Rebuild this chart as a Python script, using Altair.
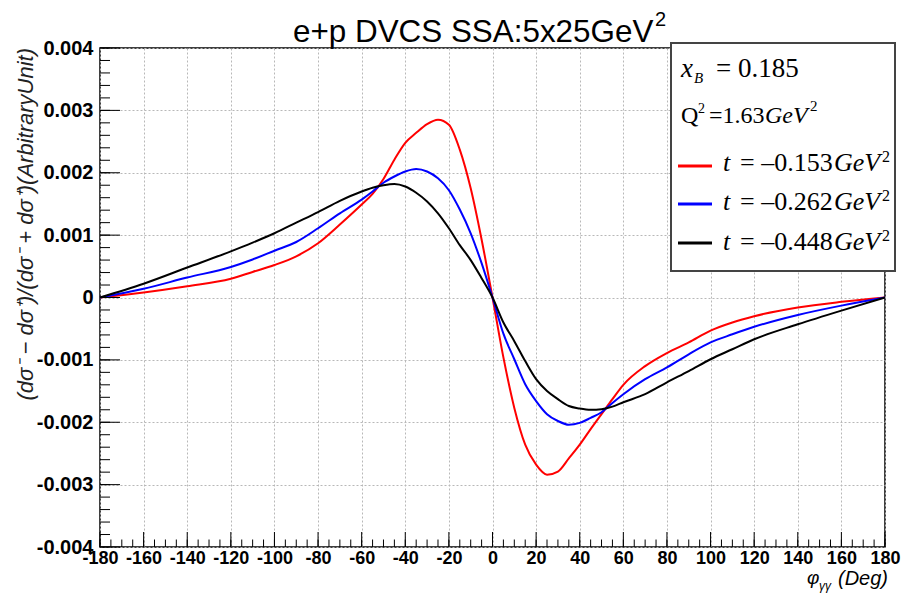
import altair as alt
import pandas as pd

# ---------------- data ----------------
phi = [-180, -160, -140, -120, -110, -100, -90, -80, -70, -60, -55, -50, -45, -40,
       -35, -30, -25, -20, -15, -10, -5, 0, 5, 10, 15, 20, 25, 30, 35, 40, 45, 50,
       55, 60, 70, 80, 90, 100, 110, 120, 140, 160, 180]

ssa_t153 = [0, 0.00008, 0.00018, 0.0003, 0.00041, 0.00052, 0.00066, 0.00087, 0.00117,
            0.00149, 0.00166, 0.0019, 0.00221, 0.00248, 0.00264, 0.00278, 0.00285,
            0.00277, 0.00237, 0.00175, 0.00093, 0, -0.00096, -0.00177, -0.00236,
            -0.00268, -0.00284, -0.00279, -0.00258, -0.00236, -0.00211, -0.00187,
            -0.00163, -0.0014, -0.0011, -0.00089, -0.00072, -0.00053, -0.0004,
            -0.0003, -0.00016, -0.00007, 0]

ssa_t262 = [0, 0.00014, 0.00032, 0.00049, 0.00061, 0.00075, 0.00089, 0.00111, 0.00135,
            0.00157, 0.0017, 0.00184, 0.00194, 0.00202, 0.00206, 0.00202, 0.00191,
            0.00172, 0.00141, 0.00103, 0.00055, 0, -0.00058, -0.00099, -0.00139,
            -0.00166, -0.00187, -0.00198, -0.00204, -0.00201, -0.00193, -0.00184,
            -0.00169, -0.00155, -0.00131, -0.00112, -0.00091, -0.00072, -0.00059,
            -0.00047, -0.00028, -0.00013, 0]

ssa_t448 = [0, 0.00022, 0.00048, 0.00074, 0.00088, 0.00103, 0.0012, 0.00137, 0.00155,
            0.0017, 0.00176, 0.0018, 0.00182, 0.00178, 0.00168, 0.00154, 0.00135,
            0.00111, 0.00084, 0.0006, 0.00031, 0, -0.0004, -0.0007, -0.00102,
            -0.00131, -0.0015, -0.00163, -0.00174, -0.00178, -0.0018, -0.00179,
            -0.00175, -0.00168, -0.00155, -0.00136, -0.00118, -0.00099, -0.00083,
            -0.00067, -0.00043, -0.00021, 0]

series_names = ["t=-0.153", "t=-0.262", "t=-0.448"]
series_colors = ["#ff0000", "#0000ff", "#000000"]
t_texts = ["= \u20130.153", "= \u20130.262", "= \u20130.448"]

x_ticks = [-180, -160, -140, -120, -100, -80, -60, -40, -20, 0,
           20, 40, 60, 80, 100, 120, 140, 160, 180]
y_ticks = [-0.004, -0.003, -0.002, -0.001, 0, 0.001, 0.002, 0.003, 0.004]
x_minor = [-180 + 5 * i for i in range(73)]
y_minor = [round(-0.004 + 0.0002 * i, 5) for i in range(41)]

title_text = "e+p DVCS SSA:5x25GeV"
y_title = "(d\u03c3\u207b \u2212 d\u03c3\u207a)/(d\u03c3\u207b + d\u03c3\u207a)(ArbitraryUnit)"

# ---------------- layout ----------------
W, H = 785, 499
PL, PT = 100, 48
SANS = "Liberation Sans"
SERIF = "Liberation Serif"

rows = []
for name, vals in zip(series_names, [ssa_t153, ssa_t262, ssa_t448]):
    for p, v in zip(phi, vals):
        rows.append({"phi": p, "asym": v, "series": name})
df = pd.DataFrame(rows)

xscale = alt.Scale(domain=[-180, 180], nice=False, zero=False)
yscale = alt.Scale(domain=[-0.004, 0.004], nice=False, zero=False)

xaxis = alt.Axis(values=x_ticks, title=None, grid=True, gridDash=[2, 2],
                 gridColor="#b8b8b8", gridWidth=1, ticks=False, tickSize=0,
                 domain=False, labelFont=SANS, labelFontSize=18,
                 labelFontWeight="bold", labelColor="black", labelPadding=2,
                 labelFlush=False, labelOverlap=False,
                 labelExpr="(datum.value < 0 ? '-' : '') + format(abs(datum.value), 'd')")
yaxis = alt.Axis(values=y_ticks, title=None, grid=True, gridDash=[2, 2],
                 gridColor="#b8b8b8", gridWidth=1, ticks=False, tickSize=0,
                 domain=False, labelFont=SANS, labelFontSize=20,
                 labelFontWeight="bold", labelColor="black", labelPadding=7,
                 labelFlush=False, labelOverlap=False,
                 labelExpr="abs(datum.value) < 0.0000001 ? '0' : (datum.value < 0 ? '-' : '') + format(abs(datum.value), '.3f')")

X = alt.X("phi:Q", scale=xscale, axis=xaxis)
Y = alt.Y("asym:Q", scale=yscale, axis=yaxis)

lines = alt.Chart(df).mark_line(strokeWidth=2, interpolate="monotone").encode(
    x=X, y=Y,
    color=alt.Color("series:N", scale=alt.Scale(domain=series_names, range=series_colors), legend=None),
)

# inward ticks (ROOT style), drawn through the same scales
def xtick_layer(vals, length):
    return alt.Chart(pd.DataFrame({"phi": vals})).mark_rule(color="black", strokeWidth=1).encode(
        x=X, y=alt.value(H), y2=alt.value(H - length))

def ytick_layer(vals, length):
    return alt.Chart(pd.DataFrame({"asym": vals})).mark_rule(color="black", strokeWidth=1).encode(
        y=Y, x=alt.value(0), x2=alt.value(length))

ticks = [xtick_layer(x_minor, 7.5), xtick_layer(x_ticks, 15),
         ytick_layer(y_minor, 10), ytick_layer(y_ticks, 20)]

dummy = pd.DataFrame({"d": [0]})

def txt(s, x, y, size, font=SERIF, style="normal", weight="normal", align="left",
        baseline="alphabetic", angle=0, color="black"):
    return alt.Chart(dummy).mark_text(text=s, font=font, fontSize=size, fontStyle=style,
                                      fontWeight=weight, align=align, baseline=baseline,
                                      angle=angle, color=color).encode(
        x=alt.value(x - PL), y=alt.value(y - PT))

def seg(x1, x2, y, color, width):
    return alt.Chart(dummy).mark_rule(color=color, strokeWidth=width).encode(
        x=alt.value(x1 - PL), x2=alt.value(x2 - PL), y=alt.value(y - PT))

box = alt.Chart(dummy).mark_rect(fill="white", stroke="#444444", strokeWidth=2).encode(
    x=alt.value(671 - PL), x2=alt.value(895 - PL), y=alt.value(43 - PT), y2=alt.value(271 - PT))

texts = [
    # title
    txt(title_text, 293, 41.5, 31.4, font=SANS),
    txt("2", 655, 26, 20, font=SANS),
    # y title
    txt(y_title, 26, 48, 22, font=SANS, style="italic", align="right",
        baseline="middle", angle=270, color="#222222"),
    # x title
    txt("\u03c6", 807, 584, 19, font=SANS, style="italic"),
    txt("\u03b3\u03b3", 819, 590, 12, font=SANS, style="italic"),
    txt("(Deg)", 888, 585, 20, font=SANS, style="italic", align="right"),
    # legend box texts
    txt("x", 681, 77, 27, style="italic"),
    txt("B", 694, 83, 15, style="italic"),
    txt("= 0.185", 716, 77, 27),
    txt("Q", 681, 123, 24),
    txt("2", 698, 113, 14),
    txt("=1.63", 709, 123, 24),
    txt("GeV", 765, 123, 24, style="italic"),
    txt("2", 810, 111, 15),
]

seg_y = [166, 204, 243]
base_y = [171, 210, 250]
legend_layers = []
for col, t, sy, by in zip(series_colors, t_texts, seg_y, base_y):
    legend_layers.append(seg(678, 712, sy, col, 3))
    legend_layers.append(txt("t", 723, by, 26, style="italic"))
    legend_layers.append(txt(t, 740, by, 26))
    legend_layers.append(txt("GeV", 834, by, 26, style="italic"))
    legend_layers.append(txt("2", 882, by - 9, 16))

chart = alt.layer(lines, *ticks, box, *texts, *legend_layers).properties(
    width=W, height=H,
    autosize=alt.AutoSizeParams(type="none"),
    padding={"left": PL, "top": PT, "right": 904 - PL - W, "bottom": 594 - PT - H},
    background="white",
).configure_view(stroke="black", strokeWidth=1.5)

chart.save("out.html", embed_options={"renderer": "svg", "actions": False})
